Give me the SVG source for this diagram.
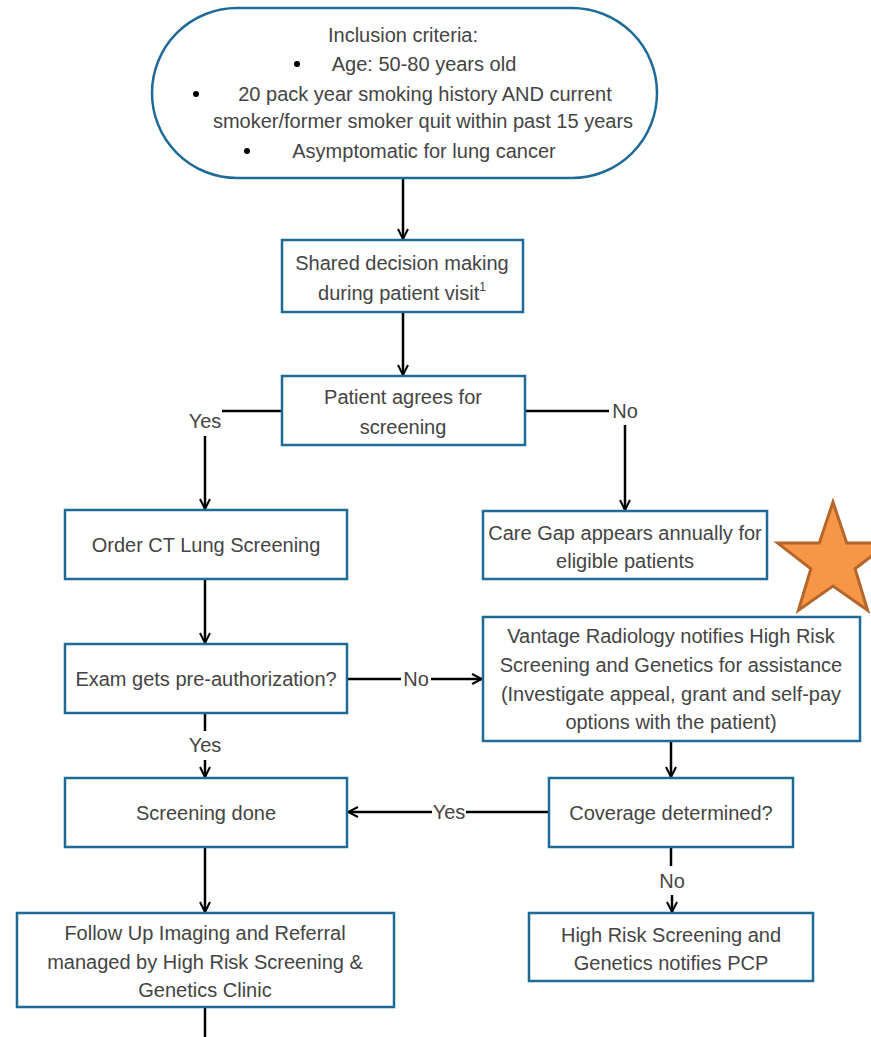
<svg xmlns="http://www.w3.org/2000/svg" width="871" height="1037" viewBox="0 0 871 1037">
<defs>
<marker id="arr" viewBox="0 0 12 12" refX="11" refY="6" markerWidth="12" markerHeight="12" markerUnits="userSpaceOnUse" orient="auto">
<path d="M1,1 L11,6 L1,11" fill="none" stroke="#000" stroke-width="2"/>
</marker>
<style>
.box{fill:#fff;stroke:#1f6b98;stroke-width:2.5}
.t{font-family:"Liberation Sans",Arial,sans-serif;font-size:20px;fill:#444;text-anchor:middle}
.c{fill:none;stroke:#000;stroke-width:2.5}
.lbl{font-family:"Liberation Sans",Arial,sans-serif;font-size:20px;fill:#444;text-anchor:middle}
</style>
</defs>
<rect width="871" height="1037" fill="#fff"/>

<g id="connectors">
<line class="c" x1="403" y1="178" x2="403" y2="239" marker-end="url(#arr)"/>
<line class="c" x1="403" y1="312" x2="403" y2="375" marker-end="url(#arr)"/>
<polyline class="c" points="282,411 222,411"/>
<line class="c" x1="205" y1="436" x2="205" y2="509" marker-end="url(#arr)"/>
<text class="lbl" x="205" y="428">Yes</text>
<polyline class="c" points="525,411 609,411"/>
<line class="c" x1="625" y1="425" x2="625" y2="510" marker-end="url(#arr)"/>
<text class="lbl" x="625" y="418">No</text>
<line class="c" x1="205" y1="579" x2="205" y2="643" marker-end="url(#arr)"/>
<line class="c" x1="347" y1="679" x2="401" y2="679"/>
<line class="c" x1="431" y1="679" x2="482" y2="679" marker-end="url(#arr)"/>
<text class="lbl" x="416" y="686">No</text>
<line class="c" x1="205" y1="713" x2="205" y2="731"/>
<line class="c" x1="205" y1="760" x2="205" y2="777" marker-end="url(#arr)"/>
<text class="lbl" x="205" y="752">Yes</text>
<line class="c" x1="671" y1="741" x2="671" y2="777" marker-end="url(#arr)"/>
<line class="c" x1="549" y1="812" x2="466" y2="812"/>
<line class="c" x1="432" y1="812" x2="348" y2="812" marker-end="url(#arr)"/>
<text class="lbl" x="449" y="819">Yes</text>
<line class="c" x1="671" y1="847" x2="671" y2="866"/>
<line class="c" x1="672" y1="895" x2="672" y2="912" marker-end="url(#arr)"/>
<text class="lbl" x="672" y="888">No</text>
<line class="c" x1="205" y1="847" x2="205" y2="912" marker-end="url(#arr)"/>
<line class="c" x1="205" y1="1007" x2="205" y2="1037"/>
</g>

<g id="n-inclusion">
<rect class="box" x="152" y="8" width="505" height="170" rx="85" ry="85"/>
<text class="t" x="403" y="42">Inclusion criteria:</text>
<circle cx="297" cy="64" r="3" fill="#000"/>
<text class="t" x="424" y="71">Age: 50-80 years old</text>
<circle cx="196" cy="94" r="3" fill="#000"/>
<text class="t" x="425" y="101">20 pack year smoking history AND current</text>
<text class="t" x="423" y="128">smoker/former smoker quit within past 15 years</text>
<circle cx="247" cy="151" r="3" fill="#000"/>
<text class="t" x="424" y="158">Asymptomatic for lung cancer</text>
</g>

<g id="n-shared">
<rect class="box" x="282" y="240" width="241" height="72"/>
<text class="t" x="402" y="270">Shared decision making</text>
<text class="t" x="402" y="300">during patient visit<tspan font-size="12" dy="-9">1</tspan></text>
</g>

<g id="n-agrees">
<rect class="box" x="282" y="376" width="243" height="69"/>
<text class="t" x="403" y="404">Patient agrees for</text>
<text class="t" x="403" y="434">screening</text>
</g>

<g id="n-order">
<rect class="box" x="65" y="510" width="282" height="69"/>
<text class="t" x="206" y="552">Order CT Lung Screening</text>
</g>

<g id="n-caregap">
<rect class="box" x="483" y="511" width="284" height="68"/>
<text class="t" x="625" y="540">Care Gap appears annually for</text>
<text class="t" x="625" y="568">eligible patients</text>
</g>

<g id="n-star">
<polygon points="833,502 846.7,542.9 888.3,543.1 855.1,568.8 867.6,610.2 833,586 798.4,610.2 810.9,568.8 777.7,543.1 819.3,542.9" fill="#f79646" stroke="#b5662b" stroke-width="3" stroke-linejoin="miter"/>
</g>

<g id="n-preauth">
<rect class="box" x="65" y="644" width="282" height="69"/>
<text class="t" x="206" y="686">Exam gets pre-authorization?</text>
</g>

<g id="n-vantage">
<rect class="box" x="483" y="617" width="377" height="124"/>
<text class="t" x="671" y="643">Vantage Radiology notifies High Risk</text>
<text class="t" x="671" y="672">Screening and Genetics for assistance</text>
<text class="t" x="671" y="701">(Investigate appeal, grant and self-pay</text>
<text class="t" x="671" y="729">options with the patient)</text>
</g>

<g id="n-screening">
<rect class="box" x="65" y="778" width="282" height="69"/>
<text class="t" x="206" y="820">Screening done</text>
</g>

<g id="n-coverage">
<rect class="box" x="549" y="778" width="244" height="69"/>
<text class="t" x="671" y="820">Coverage determined?</text>
</g>

<g id="n-followup">
<rect class="box" x="17" y="913" width="377" height="94"/>
<text class="t" x="205" y="940">Follow Up Imaging and Referral</text>
<text class="t" x="205" y="969">managed by High Risk Screening &amp;</text>
<text class="t" x="205" y="997">Genetics Clinic</text>
</g>

<g id="n-notifypcp">
<rect class="box" x="529" y="913" width="284" height="68"/>
<text class="t" x="671" y="942">High Risk Screening and</text>
<text class="t" x="671" y="970">Genetics notifies PCP</text>
</g>
</svg>
